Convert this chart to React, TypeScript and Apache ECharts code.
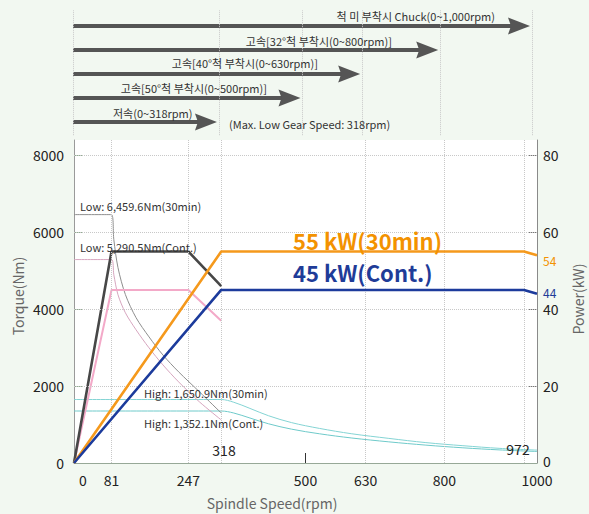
import React, { useEffect, useRef } from "react";
import * as echarts from "echarts";

// ---- axis / tick data ----
const speedTickLabels = [0, 81, 247, 500, 630, 800, 1000];
const speedTickMarks = [500];
const speedGuides = [81, 247, 318, 630, 800, 972];
const torqueTicks = [0, 2000, 4000, 6000, 8000];
const torqueGuides = [2000, 4000, 6000, 8000];
const powerTicks = [0, 20, 40, 60, 80];
const powerTickMarks = [20, 40, 60, 80];

// ---- top speed-range arrows ----
const topGuides = [0, 318, 500, 630, 800, 1000];
const arrowEnds = [1000, 800, 630, 500, 318];
const arrowRows = [5, 4, 3, 2, 1];
const arrowTexts = [
  "척 미 부착시 Chuck(0~1,000rpm)",
  "고속[32°척 부착시(0~800rpm)]",
  "고속[40°척 부착시(0~630rpm)]",
  "고속[50°척 부착시(0~500rpm)]",
  "저속(0~318rpm)",
];
const lowGearNote = "(Max. Low Gear Speed: 318rpm)";

// ---- power curves (kW) ----
const lowPower30 = [[0, 0], [81, 55], [247, 55], [318, 46]];
const lowPowerCont = [[0, 0], [81, 45], [247, 45], [318, 37]];
const highPower30 = [[0, 0], [318, 55], [972, 55], [1000, 54]];
const highPowerCont = [[0, 0], [318, 45], [972, 45], [1000, 44]];

// ---- torque curves (Nm) ----
const lowTorque30 = [[0, 6459.6], [81, 6459.6], [86, 5810], [95, 5080], [111, 4380], [134, 3780], [162, 3280], [192, 2810], [226, 2370], [271, 1850], [318, 1300]];
const lowTorqueCont = [[0, 5290.5], [81, 5290.5], [86, 4896], [95, 4375], [111, 3906], [134, 3464], [162, 2995], [192, 2552], [226, 2109], [271, 1589], [318, 1120]];
const highTorque30 = [[0, 1650.9], [300, 1650.9], [318, 1650.9], [345, 1580], [380, 1420], [420, 1230], [470, 1050], [530, 900], [600, 760], [680, 640], [760, 530], [840, 450], [920, 380], [1000, 335]];
const highTorqueCont = [[0, 1352.1], [300, 1352.1], [318, 1352.1], [345, 1300], [380, 1170], [420, 1020], [470, 880], [530, 760], [600, 650], [680, 550], [760, 465], [840, 395], [920, 340], [1000, 300]];

const FONT = "'Noto Sans CJK KR', 'Noto Sans', sans-serif";

function txt(text: string, x: number, y: number, size: number, color: string, align = "left", extra: any = {}) {
  return {
    type: "text",
    x,
    y,
    z: 100,
    silent: true,
    ...extra,
    style: { text, fill: color, fontSize: size, fontFamily: FONT, align, verticalAlign: "middle", ...(extra.style || {}) },
  };
}

export default function App() {
  const ref = useRef<HTMLDivElement>(null);
  useEffect(() => {
    if (!ref.current) return;
    const chart = echarts.init(ref.current, null, { renderer: "svg" });

    const curve = (name: string, data: number[][], color: string, width = 1, yAxisIndex = 0, z = 2, smooth: any = false) => ({
      name,
      type: "line",
      xAxisIndex: 0,
      yAxisIndex,
      data,
      symbol: "none",
      showSymbol: false,
      smooth,
      silent: true,
      z,
      lineStyle: { color, width },
    });

    const topTextY = [16, 41, 63, 88, 113];
    const topTextX = [495, 392, 318, 267, 113];

    const option: any = {
      animation: false,
      backgroundColor: "#f2f8f1",
      textStyle: { fontFamily: FONT },
      grid: [
        { left: 74, top: 140, width: 463, height: 323, show: true, backgroundColor: "#ffffff", borderWidth: 0 },
        { left: 73, top: 2, width: 459, height: 144, show: false },
      ],
      xAxis: [
        {
          type: "value",
          gridIndex: 0,
          min: 0,
          max: 1000,
          axisLine: { show: true, lineStyle: { color: "#97a897", width: 1 } },
          axisTick: { show: true, customValues: speedTickMarks, inside: true, length: 10, lineStyle: { color: "#333" } },
          axisLabel: {
            customValues: speedTickLabels,
            fontSize: 14,
            color: "#222",
            margin: 10,
            fontFamily: FONT,
            formatter: (v: number) => (v === 0 ? "{z|0}" : String(v)),
            rich: { z: { padding: [0, 0, 0, 18], fontSize: 14, color: "#222", fontFamily: FONT } },
          },
          splitLine: { show: false },
        },
        { type: "value", gridIndex: 1, min: 0, max: 1000, show: false },
      ],
      yAxis: [
        {
          type: "value",
          gridIndex: 0,
          min: 0,
          max: 8400,
          position: "left",
          axisLine: { show: true, lineStyle: { color: "#9a9a9a" } },
          axisTick: { show: true, customValues: torqueGuides, inside: true, length: 9, lineStyle: { color: "#8fae8f" } },
          axisLabel: { customValues: torqueTicks, fontSize: 14, color: "#222", margin: 10, fontFamily: FONT, formatter: (v: number) => String(v) },
          splitLine: { show: false },
        },
        {
          type: "value",
          gridIndex: 0,
          min: 0,
          max: 84,
          position: "right",
          axisLine: { show: true, lineStyle: { color: "#8a8a8a" } },
          axisTick: { show: true, customValues: powerTickMarks, inside: true, length: 8, lineStyle: { color: "#777" } },
          axisLabel: {
            customValues: powerTicks,
            fontSize: 14,
            color: "#222",
            margin: 6,
            fontFamily: FONT,
            formatter: (v: number) => (v === 0 ? "{z|0}" : String(v)),
            rich: { z: { padding: [0, 0, 5, 0], fontSize: 14, color: "#222", fontFamily: FONT } },
          },
          splitLine: { show: false },
        },
        { type: "value", gridIndex: 1, min: 0, max: 6, show: false },
      ],
      series: [
        {
          name: "guides",
          type: "line",
          xAxisIndex: 0,
          yAxisIndex: 0,
          data: [],
          silent: true,
          z: 1,
          markLine: {
            silent: true,
            symbol: ["none", "none"],
            label: { show: false },
            animation: false,
            lineStyle: { type: "dotted", color: "#c8c8c8", width: 1 },
            data: [...speedGuides.map((v) => ({ xAxis: v })), ...torqueGuides.map((v) => ({ yAxis: v }))],
          },
        },
        {
          name: "topGuides",
          type: "line",
          xAxisIndex: 1,
          yAxisIndex: 2,
          data: [],
          silent: true,
          z: 1,
          markLine: {
            silent: true,
            symbol: ["none", "none"],
            label: { show: false },
            animation: false,
            lineStyle: { type: "dotted", color: "#c8c8c8", width: 1 },
            data: topGuides.map((v) => [{ coord: [v, 0.45] }, { coord: [v, 5.65] }]),
          },
        },
        {
          name: "arrows",
          type: "custom",
          coordinateSystem: "cartesian2d",
          xAxisIndex: 1,
          yAxisIndex: 2,
          silent: true,
          z: 3,
          data: arrowEnds.map((e, i) => [e, arrowRows[i]]),
          encode: { x: 0, y: 1 },
          renderItem: (params: any, api: any) => {
            const e = api.value(0);
            const r = api.value(1);
            const p0 = api.coord([0, r]);
            const p1 = api.coord([e, r]);
            const tip = p1[0] - 2;
            const headLen = 22;
            return {
              type: "group",
              children: [
                { type: "rect", shape: { x: p0[0], y: p0[1] - 2, width: tip - headLen + 4 - p0[0], height: 4 }, style: { fill: "#555" } },
                {
                  type: "polygon",
                  shape: { points: [[tip - headLen, p1[1] - 8.5], [tip, p1[1]], [tip - headLen, p1[1] + 8.5], [tip - headLen + 3, p1[1]]] },
                  style: { fill: "#555" },
                },
              ],
            };
          },
        },
        curve("High torque 30min", highTorque30, "#84d4d4", 1, 0, 2, 0.35),
        curve("High torque cont", highTorqueCont, "#6fcaca", 1, 0, 2, 0.35),
        curve("Low torque 30min", lowTorque30, "#8e8e8e", 1, 0, 2, 0.3),
        curve("Low torque cont", lowTorqueCont, "#d7a6bf", 1, 0, 2, 0.3),
        curve("Low power cont", lowPowerCont, "#f3a9c8", 2, 1, 3, false),
        curve("Low power 30min", lowPower30, "#474747", 2.6, 1, 4, false),
        curve("High power 30min", highPower30, "#f5991c", 2.6, 1, 5, false),
        curve("High power cont", highPowerCont, "#1c3b9c", 2.6, 1, 6, false),
      ],
      graphic: [
        ...arrowTexts.map((t, i) => txt(t, topTextX[i], topTextY[i], 11, "#333", i === 4 ? "left" : "right")),
        txt(lowGearNote, 229, 124, 11, "#333"),
        txt("Low: 6,459.6Nm(30min)", 80, 206, 11, "#333"),
        txt("Low: 5,290.5Nm(Cont.)", 80, 247, 11, "#333"),
        txt("High: 1,650.9Nm(30min)", 144, 393, 11, "#333"),
        txt("High: 1,352.1Nm(Cont.)", 144, 423, 11, "#333"),
        txt("318", 224, 450, 14, "#222", "center"),
        txt("972", 518, 449, 14, "#222", "center"),
        txt("55 kW(30min)", 293, 240, 22, "#f39200", "left", { style: { fontWeight: "bold" } }),
        txt("45 kW(Cont.)", 293, 272, 22, "#1f3c98", "left", { style: { fontWeight: "bold" } }),
        txt("54", 543, 260, 12, "#f39200"),
        txt("44", 543, 292, 12, "#1f3c98"),
        txt("Torque(Nm)", 18, 296, 14, "#666", "center", { rotation: Math.PI / 2 }),
        txt("Power(kW)", 578, 299, 14, "#666", "center", { rotation: Math.PI / 2 }),
        txt("Spindle Speed(rpm)", 272, 503, 14, "#666", "center"),
      ],
    };

    chart.setOption(option);
    return () => chart.dispose();
  }, []);

  return (
    <div style={{ position: "fixed", left: 0, top: 0, width: 589, height: 514, background: "#f2f8f1" }}>
      <div ref={ref} style={{ width: 589, height: 514 }} />
    </div>
  );
}
